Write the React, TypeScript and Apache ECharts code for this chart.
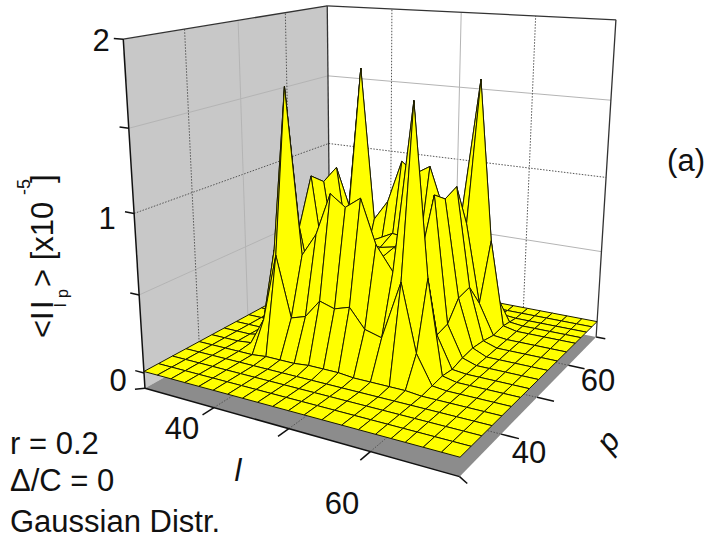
import React, { useEffect, useRef } from "react";
import * as echarts from "echarts";

const lTickValues = [40, 50, 60];
const pTickValues = [40, 50, 60];
const zTickValues = [0, 0.5, 1, 1.5, 2];
const lRange = [30, 70];
const pRange = [30, 70];
const zBottom = -0.1;

const lColumns = [30, 32, 34, 36, 38, 40, 42, 44, 46, 48, 50, 52, 54.2, 56.6, 58.6, 60.6, 62.4, 64, 66, 68, 70];
const pRows = [30, 32.5, 35, 37.5, 40, 42.5, 45, 47.5, 50.2, 53, 56, 59, 62, 64, 66, 68, 70];

const zRows: number[][] = [
  [.01,.01,.01,.01,.01,.01,.01,.01,.01,.01,.01,.01,.01,.01,.01,.01,.01,.01,.01,.01,.01],
  [.01,.01,.01,.01,.01,.01,.01,.01,.01,.01,.01,.01,.01,.01,.01,.01,.01,.01,.01,.01,.01],
  [.01,.01,.01,.01,.01,.01,.01,.01,.01,.01,.01,.01,.01,.01,.01,.01,.01,.01,.01,.01,.01],
  [.01,.01,.01,.01,.01,.01,.01,.01,.01,.01,.01,.01,.01,.01,.01,.01,.01,.01,.01,.01,.01],
  [.01,.01,.01,.01,.01,.02,.02,.02,.03,.03,.03,.02,.02,.02,.02,.01,.01,.01,.01,.01,.01],
  [.01,.01,.01,.02,.20,.64,.25,.28,.40,.37,.40,.28,.25,.62,.20,.02,.01,.01,.01,.01,.01],
  [.01,.01,.01,.03,.62,1.66,.62,.77,1.04,.97,1.04,.77,.62,1.65,.62,.03,.01,.01,.01,.01,.01],
  [.01,.01,.01,.02,.22,.75,.28,.28,.42,.38,.42,.28,.28,.75,.22,.02,.01,.01,.01,.01,.01],
  [.01,.01,.01,.04,.30,1.05,.40,.30,.55,.58,.60,.30,.40,1.04,.24,.04,.01,.01,.01,.01,.01],
  [.01,.01,.01,.05,.37,.98,.38,.30,.62,.60,.62,.30,.38,.98,.36,.05,.01,.01,.01,.01,.01],
  [.01,.01,.01,.04,.38,1.04,.40,.30,.60,.65,.64,.30,.40,1.02,.38,.04,.01,.01,.01,.01,.01],
  [.01,.01,.01,.02,.22,.74,.28,.28,.42,.38,.42,.28,.28,.74,.22,.02,.01,.01,.01,.01,.01],
  [.01,.01,.01,.03,.62,1.65,.62,.76,1.05,.98,1.04,.76,.62,1.64,.60,.03,.01,.01,.01,.01,.01],
  [.01,.01,.01,.02,.20,.62,.25,.28,.40,.37,.40,.28,.25,.62,.20,.02,.01,.01,.01,.01,.01],
  [.01,.01,.01,.01,.01,.02,.02,.02,.03,.03,.03,.02,.02,.02,.02,.01,.01,.01,.01,.01,.01],
  [.01,.01,.01,.01,.01,.01,.01,.01,.01,.01,.01,.01,.01,.01,.01,.01,.01,.01,.01,.01,.01],
  [.01,.01,.01,.01,.01,.01,.01,.01,.01,.01,.01,.01,.01,.01,.01,.01,.01,.01,.01,.01,.01],
];

// Camera calibration: plane z=0 corners and three z=2 corners, in pixels.
const corners0 = [[144, 373], [460, 459], [597, 323], [330, 272]];
const cornersTop: [number, number, number][] = [[0, 122, 39], [3, 329, 4], [2, 615, 22]];

function makeCamera() {
  const [p0, p1, p2, p3] = corners0;
  const sx = p0[0] - p1[0] + p2[0] - p3[0], sy = p0[1] - p1[1] + p2[1] - p3[1];
  const dx1 = p1[0] - p2[0], dy1 = p1[1] - p2[1], dx2 = p3[0] - p2[0], dy2 = p3[1] - p2[1];
  const den = dx1 * dy2 - dx2 * dy1;
  const g = (sx * dy2 - dx2 * sy) / den, h = (dx1 * sy - sx * dy1) / den;
  const A = [p1[0] - p0[0] + g * p1[0], p3[0] - p0[0] + h * p3[0], p0[0]];
  const B = [p1[1] - p0[1] + g * p1[1], p3[1] - p0[1] + h * p3[1], p0[1]];
  const unit = [[0, 0], [1, 0], [1, 1], [0, 1]];
  const N = [[0, 0, 0], [0, 0, 0], [0, 0, 0]], r = [0, 0, 0];
  const add = (row: number[], y: number) => {
    for (let m = 0; m < 3; m++) { r[m] += row[m] * y; for (let n = 0; n < 3; n++) N[m][n] += row[m] * row[n]; }
  };
  for (const [k, u, v] of cornersTop) {
    const [a, b] = unit[k];
    const W = 1 + g * a + h * b, X = A[0] * a + A[1] * b + A[2], Y = B[0] * a + B[1] * b + B[2];
    add([2, 0, -2 * u], u * W - X);
    add([0, 2, -2 * v], v * W - Y);
  }
  for (let m = 0; m < 3; m++) {
    for (let n = m + 1; n < 3; n++) {
      const f = N[n][m] / N[m][m];
      for (let q = m; q < 3; q++) N[n][q] -= f * N[m][q];
      r[n] -= f * r[m];
    }
  }
  const c = [0, 0, 0];
  for (let m = 2; m >= 0; m--) {
    let s = r[m];
    for (let q = m + 1; q < 3; q++) s -= N[m][q] * c[q];
    c[m] = s / N[m][m];
  }
  return (a: number, b: number, z: number): number[] => {
    const W = 1 + g * a + h * b + c[2] * z;
    return [(A[0] * a + A[1] * b + A[2] + c[0] * z) / W, (B[0] * a + B[1] * b + B[2] + c[1] * z) / W];
  };
}
const project = makeCamera();
const aOf = (l: number) => (l - lRange[0]) / (lRange[1] - lRange[0]);
const bOf = (p: number) => (p - pRange[0]) / (pRange[1] - pRange[0]);

const dotted = { stroke: "#555555", lineWidth: 1, lineDash: [1.5, 1.5] };
const faint = { stroke: "#b4b4b4", lineWidth: 1 };
const frame = { stroke: "#333333", lineWidth: 1.3 };
const black = { stroke: "#111111", lineWidth: 1.5 };

type Seg = { pts: number[][]; style: any };
function scaffold(): { polys: any[]; segs: Seg[] } {
  const zb = zBottom;
  const polys = [
    { pts: [project(0, 0, zb), project(0, 1, zb), project(0, 1, 2), project(0, 0, 2)], fill: "#c8c8c8" },
    { pts: [project(0, 1, zb), project(1, 1, zb), project(1, 1, 2), project(0, 1, 2)], fill: "#ffffff" },
    { pts: [project(0, 0, zb), project(1, 0, zb), project(1, 1, zb), project(0, 1, zb)], fill: "#8c8c8c" },
  ];
  const segs: Seg[] = [];
  const seg = (p: number[], q: number[], style: any) => segs.push({ pts: [p, q], style });
  for (const z of zTickValues) {
    if (z === 0 || z === 2) continue;
    const st = z === 1 ? dotted : faint;
    seg(project(0, 0, z), project(0, 1, z), st);
    seg(project(0, 1, z), project(1, 1, z), st);
  }
  for (const l of lTickValues) {
    const st = l === 50 ? faint : dotted;
    seg(project(aOf(l), 1, zb), project(aOf(l), 1, 2), st);
    seg(project(aOf(l), 0, zb), project(aOf(l), 1, zb), dotted);
    seg(project(aOf(l), 0, zb), project(aOf(l), -0.05, zb), black);
  }
  for (const p of pTickValues) {
    const st = p === 50 ? faint : dotted;
    seg(project(0, bOf(p), zb), project(0, bOf(p), 2), st);
    seg(project(0, bOf(p), zb), project(1, bOf(p), zb), dotted);
    seg(project(1, bOf(p), zb), project(1.05, bOf(p), zb), black);
  }
  for (const z of zTickValues) seg(project(0, 0, z), project(-0.033, 0, z), black);
  seg(project(0, 0, zb), project(-0.02, -0.02, zb), black);
  seg(project(1, 0, zb), project(1.03, -0.02, zb), black);
  seg(project(1, 1, zb), project(1.03, 1, zb), black);
  seg(project(0, 0, 2), project(0, 1, 2), frame);
  seg(project(0, 1, 2), project(1, 1, 2), frame);
  seg(project(1, 1, 2), project(1, 1, zb), frame);
  seg(project(0, 1, 2), project(0, 1, 0), frame);
  seg(project(0, 0, 2), project(0, 0, zb), black);
  seg(project(0, 0, zb), project(1, 0, zb), black);
  return { polys, segs };
}

function surfaceCells(): number[][] {
  const out: number[][] = [];
  for (let j = pRows.length - 2; j >= 0; j--) for (let i = 0; i < lColumns.length - 1; i++) out.push([i, j]);
  return out;
}

function surfaceItem(_: any, api: any) {
  const i = api.value(0), j = api.value(1);
  const P = (m: number, n: number) => project(aOf(lColumns[m]), bOf(pRows[n]), zRows[n][m]);
  return {
    type: "polygon",
    shape: { points: [P(i, j), P(i + 1, j), P(i + 1, j + 1), P(i, j + 1)] },
    style: { fill: "#ffff00", stroke: "#1a1a00", lineWidth: 1, lineJoin: "round" },
  };
}

const font = '"Liberation Sans", Arial, sans-serif';
const label = (text: string, x: number, y: number, size = 31, extra: any = {}, rotation = 0) => ({
  type: "text", x, y, rotation,
  style: { text, font: `${extra.fontStyle || "normal"} ${size}px ${font}`, fill: "#111111", textAlign: extra.align || "center", textVerticalAlign: "middle" },
});

export default function App() {
  const ref = useRef<HTMLDivElement>(null);
  useEffect(() => {
    document.body.style.margin = "0";
    const chart = echarts.init(ref.current!, undefined, { renderer: "svg" });
    const { polys, segs } = scaffold();
    const R = Math.PI / 2;
    chart.setOption({
      animation: false,
      backgroundColor: "#ffffff",
      series: [
        {
          type: "custom", coordinateSystem: "none", clip: false, silent: true, z: 1,
          data: polys.map((_, k) => [k]),
          renderItem: (_: any, api: any) => {
            const d = polys[api.value(0)];
            return { type: "polygon", shape: { points: d.pts }, style: { fill: d.fill } };
          },
        },
        {
          type: "custom", coordinateSystem: "none", clip: false, silent: true, z: 2,
          data: segs.map((_, k) => [k]),
          renderItem: (_: any, api: any) => {
            const d = segs[api.value(0)];
            return {
              type: "line",
              shape: { x1: d.pts[0][0], y1: d.pts[0][1], x2: d.pts[1][0], y2: d.pts[1][1] },
              style: { ...d.style, fill: null },
            };
          },
        },
        {
          type: "custom", coordinateSystem: "none", clip: false, silent: true, z: 3,
          data: surfaceCells(),
          renderItem: surfaceItem,
        },
      ],
      graphic: [
        label("2", 101, 40), label("1", 107, 218), label("0", 118, 380),
        label("40", 182, 428), label("60", 342, 503),
        label("40", 529, 452), label("60", 598, 380),
        label("l", 238, 470, 31, { fontStyle: "italic" }),
        label("p", 608, 441, 31, { fontStyle: "italic" }, 0.9),
        label("(a)", 686, 160),
        label("r = 0.2", 10, 443, 31, { align: "left" }),
        label("Δ/C = 0", 10, 480, 31, { align: "left" }),
        label("Gaussian Distr.", 10, 521, 31, { align: "left" }),
        label("<I", 42, 338, 31, { align: "left" }, R),
        label("I", 42, 309, 31, { align: "left" }, R),
        label("l", 60, 307, 16, { align: "left" }, R),
        label("p", 62, 298, 16, { align: "left" }, R),
        label("> [x10", 42, 287, 31, { align: "left" }, R),
        label("-5", 24, 195, 18, { align: "left" }, R),
        label("]", 42, 183, 31, { align: "left" }, R),
      ],
    });
    return () => chart.dispose();
  }, []);
  return <div ref={ref} style={{ width: 707, height: 539 }} />;
}
